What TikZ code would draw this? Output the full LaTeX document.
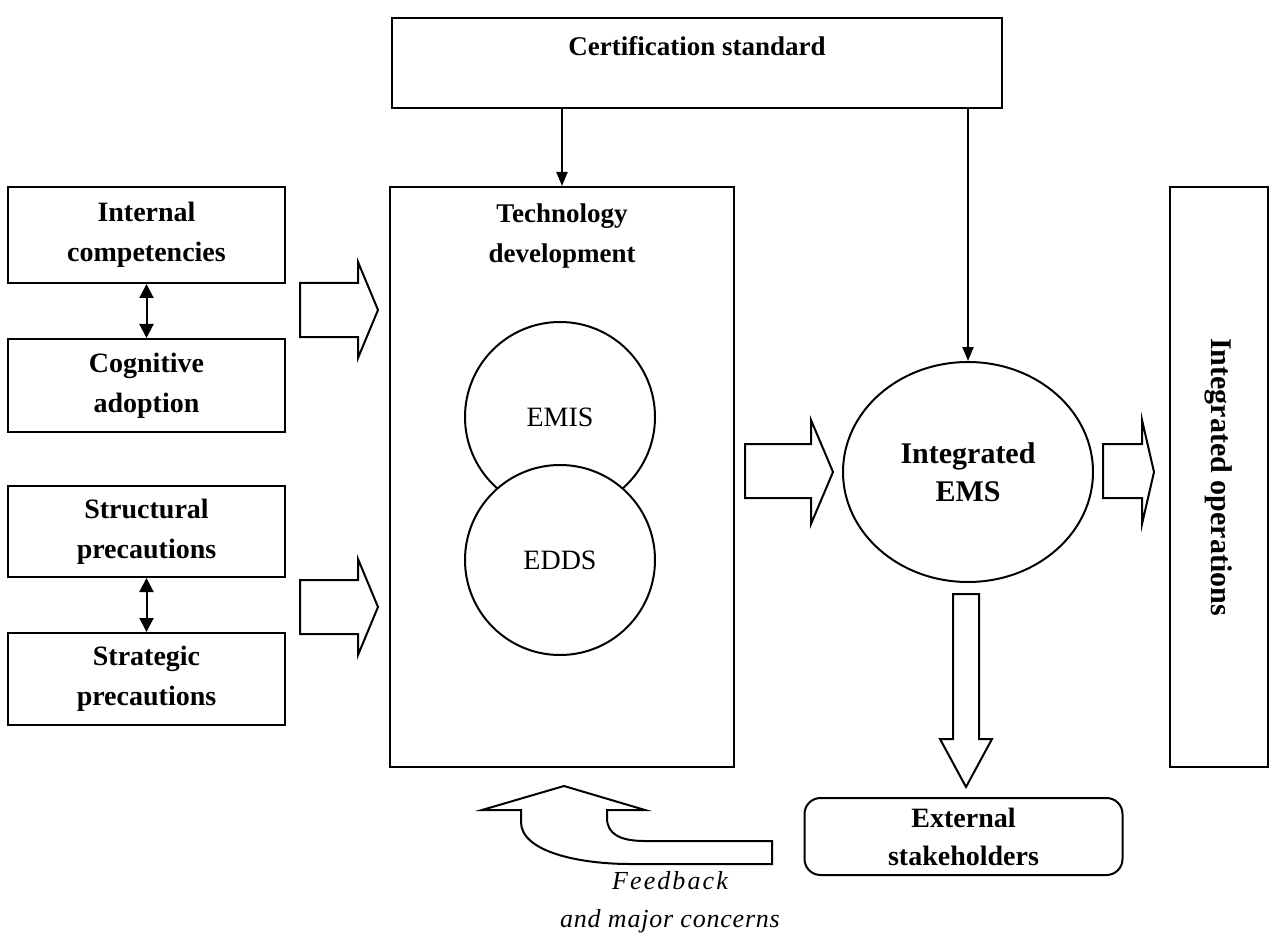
\documentclass[tikz,border=0pt]{standalone}
\usepackage{fontspec}
\setmainfont{Liberation Serif}
\usetikzlibrary{arrows.meta,shapes.geometric}
\begin{document}
\begin{tikzpicture}[x=1pt,y=-1pt,
  lw/.style={line width=2pt},
  box/.style={draw,lw,inner sep=0pt,align=center,font=\fontsize{28}{40}\selectfont\bfseries},
  btxt/.style={inner sep=0pt,align=center,font=\fontsize{27}{40}\selectfont\bfseries},
  circ/.style={draw,lw,circle,fill=white,inner sep=0pt,minimum size=190pt,font=\fontsize{28}{32}\selectfont},
  thinarrow/.style={lw,-{Triangle[length=14pt,width=11pt]}},
  dblarrow/.style={lw,{Triangle[length=14pt,width=14pt]}-{Triangle[length=14pt,width=14pt]}},
  blk/.style={draw,lw,fill=white,line join=miter}]
\useasboundingbox (0,0) rectangle (1276,949);
\fill[white] (0,0) rectangle (1276,949);

% top box
\node[box,minimum width=610pt,minimum height=90pt] (cert) at (697,63) {};
\node[btxt] (certt) at (697,46) {Certification standard};

% left boxes
\node[box,minimum width=277pt,minimum height=96pt] (ic) at (146.5,235) {Internal\\competencies};
\node[box,minimum width=277pt,minimum height=93pt] (ca) at (146.5,385.5) {Cognitive\\adoption};
\node[box,minimum width=277pt,minimum height=91pt] (sp) at (146.5,531.5) {Structural\\precautions};
\node[box,minimum width=277pt,minimum height=92pt] (st) at (146.5,679) {Strategic\\precautions};
\draw[dblarrow] (ic.south) -- (ca.north);
\draw[dblarrow] (sp.south) -- (st.north);

% technology development
\node[box,minimum width=344pt,minimum height=580pt] (tech) at (562,477) {};
\node[btxt] (techt) at (562,236) {Technology\\development};
\node[circ] (emis) at (560,417) {EMIS};
\node[circ] (edds) at (560,560) {EDDS};

% integrated EMS
\node[draw,lw,ellipse,inner sep=0pt,minimum width=250pt,minimum height=220pt,align=center,
      font=\fontsize{30}{38}\selectfont\bfseries] (ems) at (968,472) {Integrated\\EMS};

% integrated operations
\node[box,rotate=-90,minimum width=580pt,minimum height=98pt,font=\fontsize{30}{36}\selectfont\bfseries] (ops) at (1219,477) {Integrated operations};

% external stakeholders
\node[box,rounded corners=16pt,minimum width=318pt,minimum height=77pt,font=\fontsize{28}{38}\selectfont\bfseries] (ext) at (963.5,836.5) {External\\stakeholders};

% thin arrows from certification standard
\draw[thinarrow] (cert.south -| tech.north) -- (tech.north);
\draw[thinarrow] (cert.south -| ems.north) -- (ems.north);

% block arrows
\draw[blk] (300,283) -- (358,283) -- (358,262) -- (378,310) -- (358,358) -- (358,337) -- (300,337) -- cycle;
\draw[blk] (300,580) -- (358,580) -- (358,559) -- (378,607) -- (358,655) -- (358,634) -- (300,634) -- cycle;
\draw[blk] (745,444) -- (811,444) -- (811,420) -- (833,472) -- (811,524) -- (811,498) -- (745,498) -- cycle;
\draw[blk] (1103,444) -- (1142,444) -- (1142,420) -- (1154,472) -- (1142,524) -- (1142,498) -- (1103,498) -- cycle;
\draw[blk] (953,594) -- (979,594) -- (979,739) -- (992,739) -- (966,787) -- (940,739) -- (953,739) -- cycle;

% feedback arrow
\draw[blk] (521,810) -- (521,822) .. controls (521,852) and (580,864) .. (630,864)
  -- (772,864) -- (772,841) -- (645,841) .. controls (620,841) and (607,834) .. (607,818)
  -- (607,810) -- (645,810) -- (564,786) -- (482,810) -- cycle;
\node[inner sep=0pt,align=center,font=\fontsize{26}{38}\selectfont\itshape] (fb) at (670,902)
  {\addfontfeature{LetterSpace=8}Feedback\\\addfontfeature{LetterSpace=3}and major concerns};
\end{tikzpicture}
\end{document}
